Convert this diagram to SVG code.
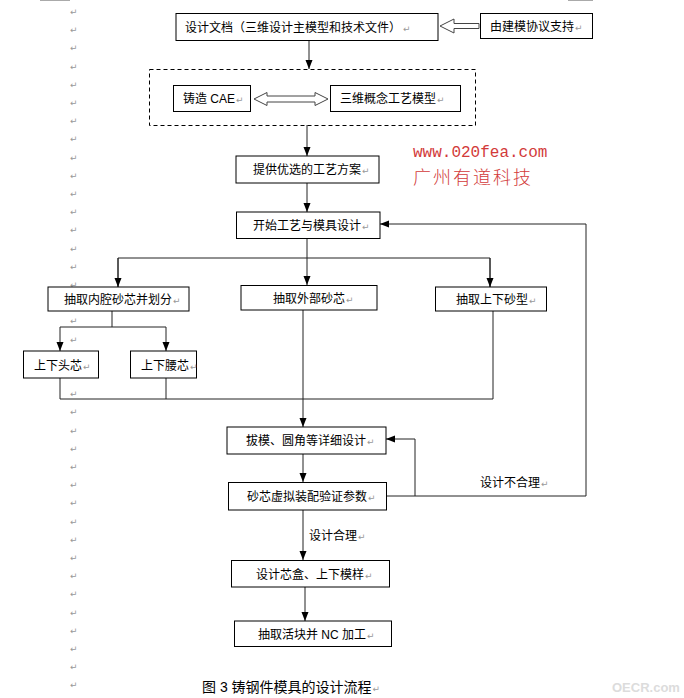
<svg xmlns="http://www.w3.org/2000/svg" width="684" height="698" viewBox="0 0 684 698">
<style>
.box{fill:#fff;stroke:#000;stroke-width:1}
.dash{fill:none;stroke:#000;stroke-width:1;stroke-dasharray:4,3}
.t{font-family:"Liberation Sans","Noto Sans CJK SC",sans-serif;font-size:12px;fill:#000}
.pm{font-family:"DejaVu Sans",sans-serif;font-size:9px;fill:#999}
.ln{fill:none;stroke:#222;stroke-width:1}
.arr{marker-end:url(#ah)}
.hollow{fill:#fff;stroke:#444;stroke-width:1}
.wm{fill:#d23a3a}
</style>
<defs>
<marker id="ah" markerUnits="userSpaceOnUse" markerWidth="9" markerHeight="8" refX="9" refY="4" orient="auto">
<path d="M0,0.5 L9,4 L0,7.5 z" fill="#000"/>
</marker>
</defs>
<rect width="684" height="698" fill="#fff"/>
<g id="page-marks">
<line x1="40" y1="0.5" x2="70" y2="0.5" stroke="#aaa"/>
<line x1="568" y1="0.5" x2="593" y2="0.5" stroke="#aaa"/>
<text class="pm" x="70" y="15">↵</text>
<text class="pm" x="70" y="33.2">↵</text>
<text class="pm" x="70" y="51.4">↵</text>
<text class="pm" x="70" y="69.6">↵</text>
<text class="pm" x="70" y="87.8">↵</text>
<text class="pm" x="70" y="106">↵</text>
<text class="pm" x="70" y="124.2">↵</text>
<text class="pm" x="70" y="142.4">↵</text>
<text class="pm" x="70" y="160.6">↵</text>
<text class="pm" x="70" y="178.8">↵</text>
<text class="pm" x="70" y="197">↵</text>
<text class="pm" x="70" y="215.2">↵</text>
<text class="pm" x="70" y="233.4">↵</text>
<text class="pm" x="70" y="251.6">↵</text>
<text class="pm" x="70" y="269.8">↵</text>
<text class="pm" x="70" y="288">↵</text>
<text class="pm" x="70" y="324.4">↵</text>
<text class="pm" x="70" y="342.6">↵</text>
<text class="pm" x="70" y="397.2">↵</text>
<text class="pm" x="70" y="415.4">↵</text>
<text class="pm" x="70" y="433.6">↵</text>
<text class="pm" x="70" y="451.8">↵</text>
<text class="pm" x="70" y="470">↵</text>
<text class="pm" x="70" y="488.2">↵</text>
<text class="pm" x="70" y="506.4">↵</text>
<text class="pm" x="70" y="524.6">↵</text>
<text class="pm" x="70" y="542.8">↵</text>
<text class="pm" x="70" y="561">↵</text>
<text class="pm" x="70" y="579.2">↵</text>
<text class="pm" x="70" y="597.4">↵</text>
<text class="pm" x="70" y="615.6">↵</text>
<text class="pm" x="70" y="633.8">↵</text>
<text class="pm" x="70" y="652">↵</text>
<text class="pm" x="70" y="670.2">↵</text>
<text class="pm" x="70" y="688.4">↵</text>
</g>
<g id="connectors">
<line class="ln arr" x1="309" y1="41" x2="309" y2="69"/>
<polygon class="hollow" points="440,26 454,19 454,23.5 479,23.5 479,28.5 454,28.5 454,33"/>
<polygon class="hollow" points="254,99 267,92.5 267,96 315,96 315,92.5 328,99 315,105.5 315,102 267,102 267,105.5"/>
<line class="ln arr" x1="307" y1="125" x2="307" y2="156"/>
<line class="ln arr" x1="307" y1="183" x2="307" y2="212"/>
<line class="ln arr" x1="307" y1="238" x2="307" y2="285"/>
<polyline class="ln" points="118,287 118,258 490,258 490,287"/>
<line class="ln arr" x1="118" y1="258" x2="118" y2="287"/>
<line class="ln arr" x1="490" y1="258" x2="490" y2="287"/>
<line class="ln" x1="112" y1="311" x2="112" y2="327"/>
<line class="ln" x1="60" y1="327" x2="166" y2="327"/>
<line class="ln arr" x1="60" y1="327" x2="60" y2="351"/>
<line class="ln arr" x1="166" y1="327" x2="166" y2="351"/>
<polyline class="ln" points="60,378 60,399 493,399 493,311"/>
<line class="ln" x1="166" y1="378" x2="166" y2="399"/>
<line class="ln arr" x1="303" y1="310" x2="303" y2="427"/>
<line class="ln arr" x1="303" y1="454" x2="303" y2="482"/>
<line class="ln arr" x1="303" y1="510" x2="303" y2="560"/>
<line class="ln arr" x1="305" y1="587" x2="305" y2="621"/>
<polyline class="ln arr" points="387,496 586,496 586,224 380,224"/>
<polyline class="ln arr" points="415,496 415,439 386,439"/>
<text class="t" x="309" y="539.5">设计合理<tspan class="pm" dx="1">↵</tspan></text>
<text class="t" x="480" y="487">设计不合理<tspan class="pm" dx="1">↵</tspan></text>
</g>
<g id="n-design-doc">
<rect class="box" x="176" y="13.5" width="262" height="27"/>
<text class="t" x="185" y="31.5">设计文档（三维设计主模型和技术文件）<tspan class="pm" dx="2">↵</tspan></text>
</g>
<g id="n-protocol">
<rect class="box" x="480.5" y="13.5" width="112" height="25"/>
<text class="t" x="490" y="30.5">由建模协议支持<tspan class="pm" dx="1">↵</tspan></text>
</g>
<g id="n-group">
<rect class="dash" x="149.5" y="69.5" width="326" height="56"/>
</g>
<g id="n-cae">
<rect class="box" x="173.5" y="85.5" width="77" height="26"/>
<text class="t" x="183" y="103">铸造 CAE<tspan class="pm" dx="1">↵</tspan></text>
</g>
<g id="n-3dmodel">
<rect class="box" x="330.5" y="85.5" width="130" height="26"/>
<text class="t" x="340" y="103">三维概念工艺模型<tspan class="pm" dx="1">↵</tspan></text>
</g>
<g id="n-scheme">
<rect class="box" x="236" y="156" width="143" height="27"/>
<text class="t" x="253" y="174">提供优选的工艺方案<tspan class="pm" dx="1">↵</tspan></text>
</g>
<g id="n-start">
<rect class="box" x="236.5" y="212" width="143.5" height="26.5"/>
<text class="t" x="253" y="229.5">开始工艺与模具设计<tspan class="pm" dx="1">↵</tspan></text>
</g>
<g id="n-inner">
<rect class="box" x="48" y="287" width="141" height="24"/>
<text class="t" x="64" y="303.5">抽取内腔砂芯并划分<tspan class="pm" dx="1">↵</tspan></text>
</g>
<g id="n-outer">
<rect class="box" x="241" y="285.5" width="136" height="24.5"/>
<text class="t" x="273" y="302.5">抽取外部砂芯<tspan class="pm" dx="1">↵</tspan></text>
</g>
<g id="n-mold">
<rect class="box" x="435.5" y="287" width="111" height="24"/>
<text class="t" x="456" y="303.5">抽取上下砂型<tspan class="pm" dx="1">↵</tspan></text>
</g>
<g id="n-headcore">
<rect class="box" x="23.5" y="351" width="75" height="27"/>
<text class="t" x="34" y="369.5">上下头芯<tspan class="pm" dx="1">↵</tspan></text>
</g>
<g id="n-waistcore">
<rect class="box" x="130.5" y="351" width="66" height="27"/>
<text class="t" x="141" y="369.5">上下腰芯<tspan class="pm" dx="1">↵</tspan></text>
</g>
<g id="n-detail">
<rect class="box" x="227" y="427" width="159" height="27"/>
<text class="t" x="246" y="445">拔模、圆角等详细设计<tspan class="pm" dx="1">↵</tspan></text>
</g>
<g id="n-verify">
<rect class="box" x="228.5" y="482.5" width="158" height="27.5"/>
<text class="t" x="247" y="501">砂芯虚拟装配验证参数<tspan class="pm" dx="1">↵</tspan></text>
</g>
<g id="n-corebox">
<rect class="box" x="231.5" y="560.5" width="158" height="26.5"/>
<text class="t" x="256" y="578.5">设计芯盒、上下模样<tspan class="pm" dx="1">↵</tspan></text>
</g>
<g id="n-nc">
<rect class="box" x="234.5" y="621" width="157" height="25.5"/>
<text class="t" x="258" y="638.5">抽取活块并 NC 加工<tspan class="pm" dx="1">↵</tspan></text>
</g>
<g id="caption">
<text x="202" y="691.5" style="font-family:'Liberation Sans','Noto Sans CJK SC',sans-serif;font-size:14px;fill:#000">图 3 铸钢件模具的设计流程<tspan class="pm" dx="1">↵</tspan></text>
</g>
<g id="watermarks">
<text class="wm" x="413" y="157" style="font-family:'Liberation Mono',monospace;font-size:16px">www.020fea.com</text>
<text class="wm" x="413" y="184" style="font-family:'Noto Sans CJK SC',sans-serif;font-size:18px;font-weight:300;letter-spacing:2px">广州有道科技</text>
<text x="612" y="692" style="font-family:'Liberation Sans',sans-serif;font-size:13px;font-weight:bold;fill:#dcdcdc">OECR.com</text>
</g>
</svg>
